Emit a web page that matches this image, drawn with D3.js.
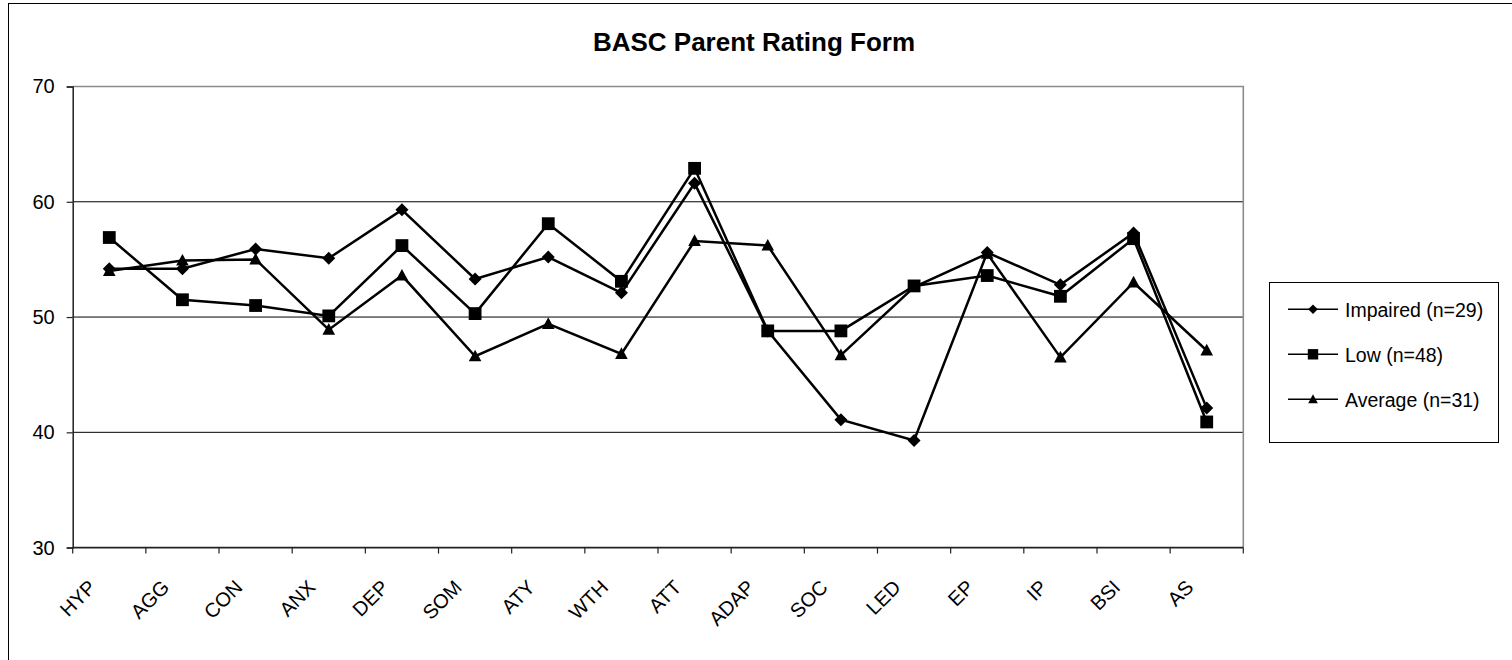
<!DOCTYPE html>
<html>
<head>
<meta charset="utf-8">
<script src="https://cdn.jsdelivr.net/npm/d3@7"></script>
<style>
  html, body { margin: 0; padding: 0; background: #fff; }
  svg { display: block; font-family: "Liberation Sans", Arial, sans-serif; }
</style>
</head>
<body>
<svg id="chart" width="1512" height="660"></svg>
<script>
const title = "BASC Parent Rating Form";
const categories = ["HYP","AGG","CON","ANX","DEP","SOM","ATY","WTH","ATT","ADAP","SOC","LED","EP","IP","BSI","AS"];
const impaired = [54.2, 54.2, 55.9, 55.1, 59.3, 53.3, 55.2, 52.1, 61.6, 48.8, 41.1, 39.3, 55.6, 52.8, 57.3, 42.1];
const low      = [56.9, 51.5, 51.0, 50.1, 56.2, 50.3, 58.1, 53.1, 62.9, 48.8, 48.8, 52.7, 53.6, 51.8, 56.8, 40.9];
const average  = [54.0, 54.9, 55.0, 48.9, 53.6, 46.6, 49.4, 46.8, 56.6, 56.2, 46.7, 52.6, 55.5, 46.5, 53.0, 47.1];
const seriesNames = ["Impaired (n=29)", "Low (n=48)", "Average (n=31)"];
const markerTypes = ["diamond", "square", "triangle"];
const yTicks = [30, 40, 50, 60, 70];

const svg = d3.select("#chart");
const plot = { left: 72.7, right: 1243.3, top: 86.5, bottom: 547.6 };

// outer chart border
svg.append("rect").attr("x", 8.5).attr("y", 3.5).attr("width", 1540).attr("height", 700)
  .attr("fill", "#fff").attr("stroke", "#000").attr("stroke-width", 1);

const x = d3.scaleBand().domain(categories).range([plot.left, plot.right]);
const y = d3.scaleLinear().domain([30, 70]).range([plot.bottom, plot.top]);
const cx = c => x(c) + x.bandwidth() / 2;

// gridlines
svg.append("g").selectAll("line").data(yTicks.filter(v => v > 30 && v < 70)).join("line")
  .attr("x1", plot.left).attr("x2", plot.right)
  .attr("y1", d => y(d)).attr("y2", d => y(d))
  .attr("stroke", "#000").attr("stroke-width", 1);

// plot frame top & right (gray)
svg.append("path")
  .attr("d", `M${plot.left},${y(70)}H${plot.right}V${y(30)}`)
  .attr("fill", "none").attr("stroke", "#8c8c8c").attr("stroke-width", 1.6);

// y axis
const yAxis = svg.append("g").attr("transform", `translate(${plot.left},0)`)
  .call(d3.axisLeft(y).tickValues(yTicks).tickSize(6).tickPadding(12).tickFormat(d3.format("d")));
yAxis.select(".domain").attr("stroke", "#222").attr("stroke-width", 1.5);
yAxis.selectAll(".tick line").attr("stroke", "#222").attr("stroke-width", 1.2);
yAxis.selectAll("text").attr("font-size", 20).attr("font-family", "Liberation Sans, Arial, sans-serif").attr("fill", "#000");

// x axis: ticks at category boundaries
const xg = svg.append("g");
xg.append("line").attr("x1", plot.left).attr("x2", plot.right)
  .attr("y1", plot.bottom).attr("y2", plot.bottom)
  .attr("stroke", "#222").attr("stroke-width", 1.8);
const boundaries = categories.map(c => x(c)).concat([x(categories[categories.length - 1]) + x.bandwidth()]);
xg.selectAll("line.tk").data(boundaries).join("line").attr("class", "tk")
  .attr("x1", d => d).attr("x2", d => d)
  .attr("y1", plot.bottom).attr("y2", plot.bottom + 6)
  .attr("stroke", "#222").attr("stroke-width", 1.2);
xg.selectAll("text").data(categories).join("text")
  .attr("transform", d => `translate(${cx(d) - 12},${plot.bottom + 41}) rotate(-45)`)
  .attr("text-anchor", "end")
  .attr("font-size", 20)
  .attr("fill", "#000")
  .text(d => d);

// title
svg.append("text").attr("x", 754).attr("y", 50.5).attr("text-anchor", "middle")
  .attr("font-size", 26).attr("font-weight", "bold").attr("fill", "#000").text(title);

// markers
function markerPath(type, s) {
  if (type === "diamond") return `M0,${-s}L${s},0L0,${s}L${-s},0Z`;
  if (type === "square") return `M${-s},${-s}H${s}V${s}H${-s}Z`;
  return `M0,${-s * 1.05}L${s},${s * 0.8}L${-s},${s * 0.8}Z`;
}
const markerSize = { diamond: 6.5, square: 6.4, triangle: 6.3 };
const legendMarkerSize = { diamond: 4.8, square: 5.2, triangle: 4.8 };

const allSeries = [impaired, low, average];
const line = d3.line().x((d, i) => cx(categories[i])).y(d => y(d));

allSeries.forEach((vals, si) => {
  const g = svg.append("g");
  g.append("path").attr("d", line(vals)).attr("fill", "none")
    .attr("stroke", "#000").attr("stroke-width", 2.5).attr("stroke-linejoin", "miter");
  g.selectAll("path.m").data(vals).join("path").attr("class", "m")
    .attr("transform", (d, i) => `translate(${cx(categories[i])},${y(d)})`)
    .attr("d", markerPath(markerTypes[si], markerSize[markerTypes[si]]))
    .attr("fill", "#000");
});

// legend
const lg = svg.append("g");
lg.append("rect").attr("x", 1269.5).attr("y", 282.5).attr("width", 229).attr("height", 160)
  .attr("fill", "#fff").attr("stroke", "#000").attr("stroke-width", 1);
seriesNames.forEach((name, i) => {
  const ly = 309.3 + i * 45;
  lg.append("line").attr("x1", 1288).attr("x2", 1338).attr("y1", ly).attr("y2", ly)
    .attr("stroke", "#000").attr("stroke-width", 1.6);
  lg.append("path").attr("transform", `translate(1313,${ly})`)
    .attr("d", markerPath(markerTypes[i], legendMarkerSize[markerTypes[i]])).attr("fill", "#000");
  lg.append("text").attr("x", 1345).attr("y", ly + 7.3).attr("font-size", 19.5)
    .attr("fill", "#000").text(name);
});
</script>
</body>
</html>
